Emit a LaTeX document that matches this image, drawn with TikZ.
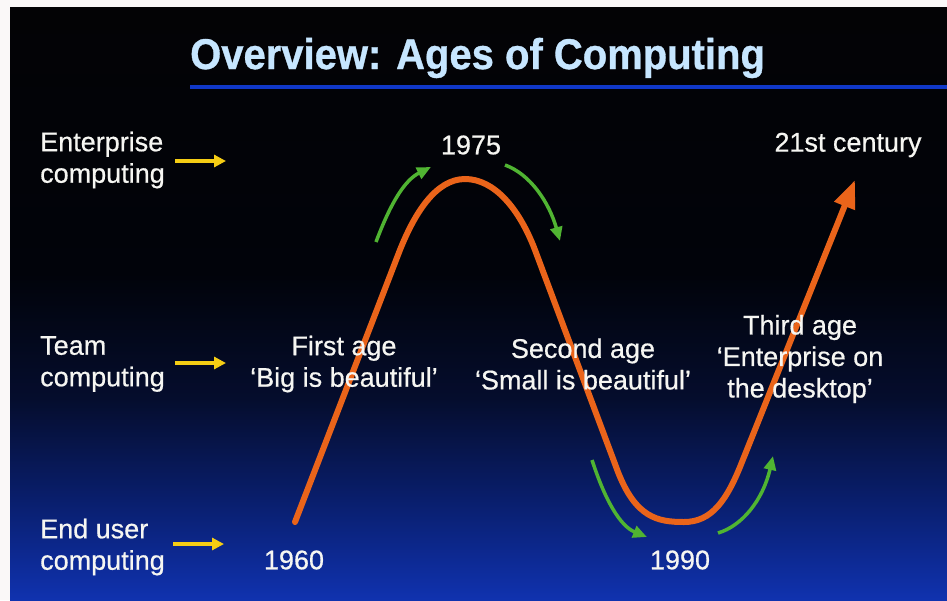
\documentclass[tikz,border=0pt]{standalone}
\usepackage{fontspec}
\usepackage{graphicx}
\setmainfont{Liberation Sans}
\newfontfamily\slidefont[Ligatures=TeX,FakeBold=0.6]{Liberation Sans}
\newfontfamily\slidetitlefont[Ligatures=TeX,FakeBold=0.8]{Liberation Sans Bold}
\usetikzlibrary{arrows.meta}

\definecolor{framewhite}{RGB}{250,248,248}
\definecolor{titleblue}{RGB}{198,230,255}
\definecolor{ruleblue}{RGB}{16,56,200}
\definecolor{curveorange}{RGB}{234,100,26}
\definecolor{arrowgreen}{RGB}{80,180,50}
\definecolor{markyellow}{RGB}{245,205,20}
\definecolor{labelwhite}{RGB}{246,246,242}
\definecolor{bgA}{RGB}{16,50,175}
\definecolor{bgB}{RGB}{9,30,108}
\definecolor{bgC}{RGB}{5,13,45}
\definecolor{bgD}{RGB}{1,3,10}
\definecolor{bgE}{RGB}{3,3,5}

% slide background: black at the top fading into deep blue at the bottom
% (the filled box spans 25bp to 75bp of the shading)
\pgfdeclareverticalshading{slidebg}{100bp}{%
  color(0bp)=(bgA); color(25bp)=(bgA); color(33.5bp)=(bgB);
  color(42bp)=(bgC); color(52.5bp)=(bgD); color(75bp)=(bgE);
  color(100bp)=(bgE)}

\begin{document}
\begin{tikzpicture}[x=1pt,y=-1pt,
  txt/.style={inner sep=0pt, text=labelwhite,
    font=\slidefont\fontsize{27}{31.5}\selectfont},
  sidelabel/.style={txt, anchor=west, align=left},
  agelabel/.style={txt, align=center},
  yellowmark/.style={draw=markyellow, line width=4.5pt,
    -{Triangle[length=12pt,width=12pt]}},
  greenarrow/.style={draw=arrowgreen, line width=3.5pt,
    -{Triangle[length=14pt,width=12pt]}},
  agecurve/.style={draw=curveorange, line width=6pt, line cap=round,
    -{Triangle[length=28pt,width=21pt]}}]

\useasboundingbox (0,0) rectangle (947,600);
\fill[framewhite] (0,0) rectangle (947,600);
\shade[shading=slidebg] (10,7) rectangle (947,600);

% title and rule
\node[anchor=base west, inner sep=0pt, text=titleblue,
  font=\slidetitlefont\fontsize{43}{48}\selectfont] (title) at (190,69)
  {\scalebox{0.93}[1]{Overview: Ages of Computing}};
\coordinate (ruleL) at (190,87);
\coordinate (ruleR) at (947,87);
\draw[ruleblue, line width=4pt] (ruleL) -- (ruleR);

% the ages curve
\coordinate (start) at (295,522);
\coordinate (upA) at (398,255);
\coordinate (peak) at (465,179);
\coordinate (downA) at (535,250);
\coordinate (downB) at (618,472);
\coordinate (trough) at (684,522);
\coordinate (upB) at (742,462);
\coordinate (tip) at (855,180);
\draw[agecurve] (start) -- (upA)
  .. controls (414,213) and (436,179) .. (peak)
  .. controls (494,179) and (519,208) .. (downA)
  -- (downB)
  .. controls (636,518) and (658,522) .. (trough)
  .. controls (712,522) and (727,500) .. (upB)
  -- (tip);

% direction arrows along the curve
\coordinate (g1a) at (376,242); \coordinate (g1b) at (431,167);
\coordinate (g2a) at (505,165); \coordinate (g2b) at (560,241);
\coordinate (g3a) at (592,460); \coordinate (g3b) at (647,537);
\coordinate (g4a) at (718,533); \coordinate (g4b) at (773,456);
\draw[greenarrow] (g1a) .. controls (391,202) and (405,180) .. (g1b);
\draw[greenarrow] (g2a) .. controls (530,174) and (549,202) .. (g2b);
\draw[greenarrow] (g3a) .. controls (605,500) and (620,526) .. (g3b);
\draw[greenarrow] (g4a) .. controls (742,526) and (763,500) .. (g4b);

% levels
\node[sidelabel] (ent) at (40,160) {Enterprise\\computing};
\node[sidelabel] (team) at (40,364) {Team\\computing};
\node[sidelabel] (user) at (40,547) {End user\\computing};
\coordinate (entA) at (175,161); \coordinate (entB) at (226,161);
\coordinate (teamA) at (175,363); \coordinate (teamB) at (226,363);
\coordinate (userA) at (173,544); \coordinate (userB) at (224,544);
\draw[yellowmark] (entA) -- (entB);
\draw[yellowmark] (teamA) -- (teamB);
\draw[yellowmark] (userA) -- (userB);

% years
\node[txt] (y1975) at (471,145) {1975};
\node[txt] (y21) at (848,145) {21st century};
\node[txt] (y1960) at (294,560) {1960};
\node[txt] (y1990) at (680,560) {1990};

% ages
\node[agelabel] (first) at (344,364) {First age\\‘Big is beautiful’};
\node[agelabel] (second) at (583,364) {Second age\\‘Small is beautiful’};
\node[agelabel] (third) at (800,359) {Third age\\‘Enterprise on\\the desktop’};

\end{tikzpicture}
\end{document}
